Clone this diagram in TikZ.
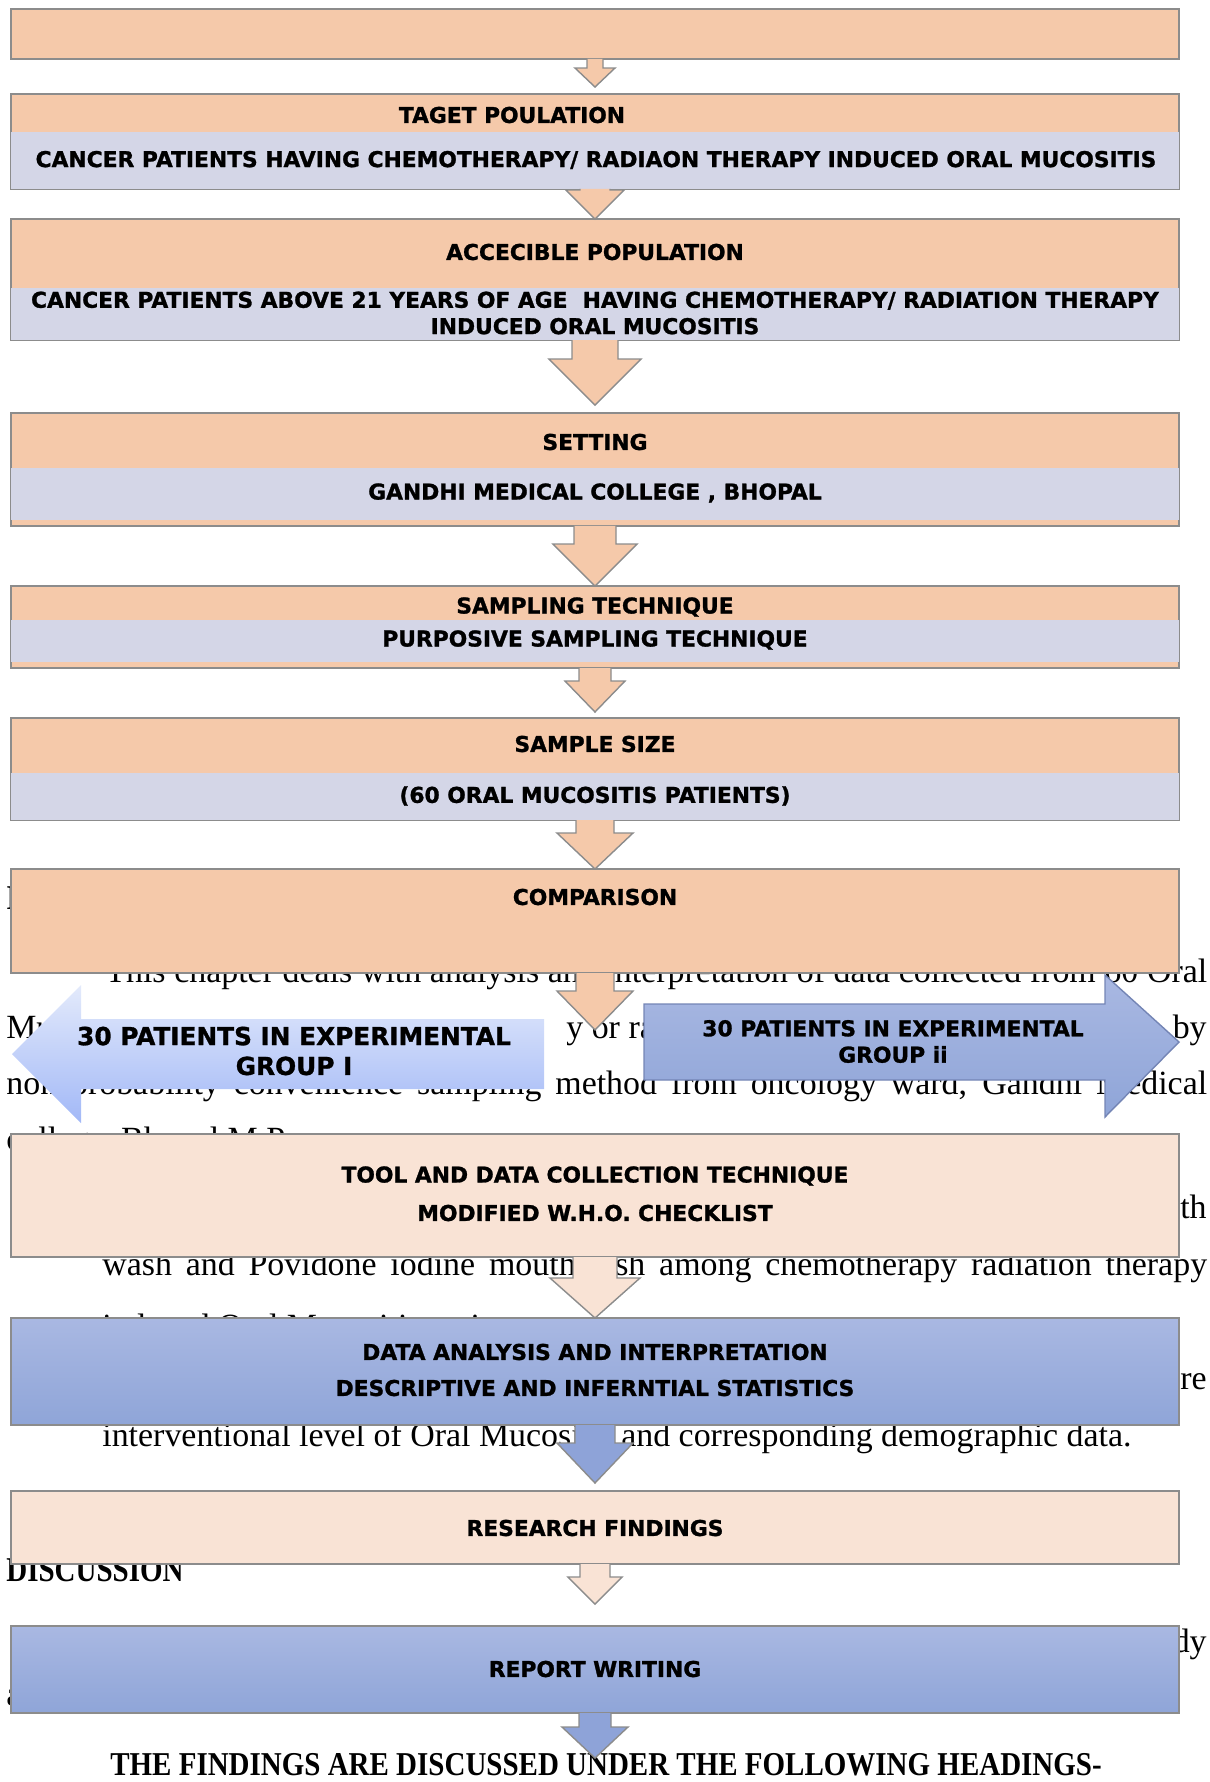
\documentclass[tikz,border=0pt]{standalone}
\usepackage{fontspec}
\setmainfont{Liberation Serif}
\newfontfamily\boxfont{DejaVu Sans}[BoldFeatures={FakeBold=1.2}]
\usepackage{xcolor}
\usetikzlibrary{calc}

\definecolor{stepfill}{HTML}{F5C9AA}
\definecolor{bandfill}{HTML}{D4D6E7}
\definecolor{palefill}{HTML}{F9E3D5}
\definecolor{bluetop}{HTML}{A9B8E2}
\definecolor{bluebot}{HTML}{8FA5D8}
\definecolor{arrowblue}{HTML}{8EA3D8}
\definecolor{skytop}{HTML}{E3EAFB}
\definecolor{skybot}{HTML}{A2B8F7}
\definecolor{edgegray}{HTML}{8C8C8C}
\definecolor{blueedge}{HTML}{7485B5}

% block arrow: from node, tip, shaft half width, head half width, head length, fill
\newcommand{\flowarrow}[6]{%
  \draw[flowedge, fill=#6] ($(#1.south)+(-#3,0)$) -- ($(#2)+(-#3,-#5)$) -- ($(#2)+(-#4,-#5)$)
    -- (#2) -- ($(#2)+(#4,-#5)$) -- ($(#2)+(#3,-#5)$) -- ($(#1.south)+(#3,0)$);}

\begin{document}
\begin{tikzpicture}[x={(0.02cm,0cm)}, y={(0cm,-0.02cm)},
  stepbox/.style={draw=edgegray, line width=0.9pt, fill=stepfill, minimum width=23.36cm, inner sep=0pt, outer sep=0pt},
  bandbox/.style={fill=bandfill, minimum width=23.36cm, inner sep=0pt, outer sep=0pt},
  palebox/.style={stepbox, fill=palefill},
  bluebox/.style={stepbox, top color=bluetop, bottom color=bluebot},
  steptext/.style={font=\boxfont\bfseries\fontsize{12.4}{15}\selectfont, inner sep=0pt, align=center},
  bodyline/.style={font=\fontsize{19.3}{23}\selectfont, anchor=base west, inner sep=0pt},
  bodyend/.style={bodyline, anchor=base east},
  headline/.style={font=\bfseries\fontsize{16.5}{20}\selectfont, anchor=base west, inner sep=0pt},
  flowedge/.style={draw=edgegray, line width=0.8pt, line join=miter}]
  \useasboundingbox (0,0) rectangle (1210,1782);

  % Page text behind the chart
  \node[headline] (introhead) at (6,909) {\scalebox{1}[1.2]{I}};
  \node[bodyline] (lineone) at (105,982) {\makebox[22.04cm][s]{This chapter deals with analysis and interpretation of data collected from 60 Oral}};
  \node[bodyline] (linetwo) at (6,1038) {Mu};
  \node[bodyline] (linetwomid) at (566,1038) {y or rad};
  \node[bodyend] (linetwoend) at (1207,1038) {by};
  \node[bodyline] (linethree) at (6,1094) {\makebox[24.02cm][s]{non probability convenience sampling method from oncology ward, Gandhi Medical}};
  \node[bodyline] (linefour) at (6,1150) {college, Bhopal M.P.};
  \node[bodyend] (linefive) at (1207,1218) {th};
  \node[bodyline] (linesix) at (102,1275) {\makebox[22.1cm][s]{wash and Povidone iodine mouthwash among chemotherapy radiation therapy}};
  \node[bodyline] (lineseven) at (102,1337) {induced Oral Mucositis patients.};
  \node[bodyend] (lineeight) at (1207,1389) {re};
  \node[bodyline] (linenine) at (102,1446) {interventional level of Oral Mucositis and corresponding demographic data.};
  \node[headline] (discusshead) at (6,1581) {\scalebox{1}[1.2]{DISCUSSION}};
  \node[bodyend] (lineten) at (1207,1652) {dy};
  \node[bodyline] (lineeleven) at (6,1705) {a};
  \node[headline] (findhead) at (110,1775) {\scalebox{1}[1.15]{THE FINDINGS ARE DISCUSSED UNDER THE FOLLOWING HEADINGS-}};

  % Boxes
  \node[stepbox, minimum height=1.0cm] (topstep) at (595,34) {};

  \node[stepbox, minimum height=1.9cm] (target) at (595,141.5) {};
  \node[bandbox, minimum height=1.14cm] (targetband) at (595,160.5) {};
  \node[steptext] (targettitle) at (512,115) {TAGET POULATION};
  \node[steptext] (targetdesc) at (596,160) {CANCER PATIENTS HAVING CHEMOTHERAPY/ RADIAON THERAPY INDUCED ORAL MUCOSITIS};

  \node[stepbox, minimum height=2.42cm] (access) at (595,279.5) {};
  \node[bandbox, minimum height=1.04cm] (accessband) at (595,314) {};
  \node[steptext] (accesstitle) at (595,252) {ACCECIBLE POPULATION};
  \node[steptext] (accessdesc) at (595,313) {CANCER PATIENTS ABOVE 21 YEARS OF AGE\ \ HAVING CHEMOTHERAPY/ RADIATION THERAPY\\INDUCED ORAL MUCOSITIS};

  \node[stepbox, minimum height=2.26cm] (setting) at (595,469.5) {};
  \node[bandbox, minimum height=1.04cm] (settingband) at (595,494) {};
  \node[steptext] (settingtitle) at (595,442) {SETTING};
  \node[steptext] (settingdesc) at (595,493) {GANDHI MEDICAL COLLEGE , BHOPAL};

  \node[stepbox, minimum height=1.64cm] (sampling) at (595,627) {};
  \node[bandbox, minimum height=0.84cm] (samplingband) at (595,641) {};
  \node[steptext] (samplingtitle) at (595,607) {SAMPLING TECHNIQUE};
  \node[steptext] (samplingdesc) at (595,640) {PURPOSIVE SAMPLING TECHNIQUE};

  \node[stepbox, minimum height=2.04cm] (size) at (595,769) {};
  \node[bandbox, minimum height=0.94cm] (sizeband) at (595,796.5) {};
  \node[steptext] (sizetitle) at (595,744) {SAMPLE SIZE};
  \node[steptext] (sizedesc) at (595,796) {(60 ORAL MUCOSITIS PATIENTS)};

  \node[stepbox, minimum height=2.08cm] (comparison) at (595,921) {};
  \node[steptext] (comparisontitle) at (595,897) {COMPARISON};

  \node[palebox, minimum height=2.46cm] (tool) at (595,1195.5) {};
  \node[steptext] (tooltitle) at (595,1176) {TOOL AND DATA COLLECTION TECHNIQUE};
  \node[steptext] (tooldesc) at (595,1213) {MODIFIED W.H.O. CHECKLIST};

  \node[bluebox, minimum height=2.14cm] (analysis) at (595,1371.5) {};
  \node[steptext] (analysistitle) at (595,1352) {DATA ANALYSIS AND INTERPRETATION};
  \node[steptext] (analysisdesc) at (595,1388) {DESCRIPTIVE AND INFERNTIAL STATISTICS};

  \node[palebox, minimum height=1.46cm] (findings) at (595,1527.5) {};
  \node[steptext] (findingstitle) at (595,1528) {RESEARCH FINDINGS};

  \node[bluebox, minimum height=1.74cm] (report) at (595,1669.5) {};
  \node[steptext] (reporttitle) at (595,1669) {REPORT WRITING};

  % Edges
  \coordinate (tipone) at ($(target.north)+(0,-7)$);
  \coordinate (tipthree) at ($(setting.north)+(0,-8)$);
  \coordinate (tipfive) at ($(size.north)+(0,-6)$);
  \coordinate (tipseven) at ($(comparison.south)+(0,57)$);
  \coordinate (tipnine) at ($(findings.north)+(0,-8)$);
  \coordinate (tipten) at ($(report.north)+(0,-22)$);
  \coordinate (tipeleven) at ($(report.south)+(0,45)$);

  \flowarrow{topstep}{tipone}{8}{20}{19}{stepfill}
  \flowarrow{targetband}{access.north}{15}{29}{29}{stepfill}
  \flowarrow{accessband}{tipthree}{23}{46}{46}{stepfill}
  \flowarrow{setting}{sampling.north}{21}{42}{42}{stepfill}
  \flowarrow{sampling}{tipfive}{16}{30}{31}{stepfill}
  \flowarrow{sizeband}{comparison.north}{19}{38}{36}{stepfill}
  \flowarrow{comparison}{tipseven}{19}{38}{39}{stepfill}
  \flowarrow{tool}{analysis.north}{22}{45}{40}{palefill}
  \flowarrow{analysis}{tipnine}{20}{38}{40}{arrowblue}
  \flowarrow{findings}{tipten}{15}{27}{27}{palefill}
  \flowarrow{report}{tipeleven}{16}{33}{31}{arrowblue}

  % Group arrows
  \shade[top color=skytop, bottom color=skybot] (12,1054) -- (81,985) -- (81,1019) -- (544,1019)
    -- (544,1089) -- (81,1089) -- (81,1123) -- cycle;
  \node[steptext, font=\boxfont\bfseries\fontsize{14.1}{17}\selectfont] (groupone) at (294,1051) {30 PATIENTS IN EXPERIMENTAL\\GROUP I};

  \shade[top color=bluetop, bottom color=bluebot, draw=blueedge, line width=0.8pt] (644,1004) -- (1105,1004)
    -- (1105,975) -- (1179,1042) -- (1105,1117) -- (1105,1080) -- (644,1080) -- cycle;
  \node[steptext] (grouptwo) at (893,1041.5) {30 PATIENTS IN EXPERIMENTAL\\GROUP ii};
\end{tikzpicture}
\end{document}
